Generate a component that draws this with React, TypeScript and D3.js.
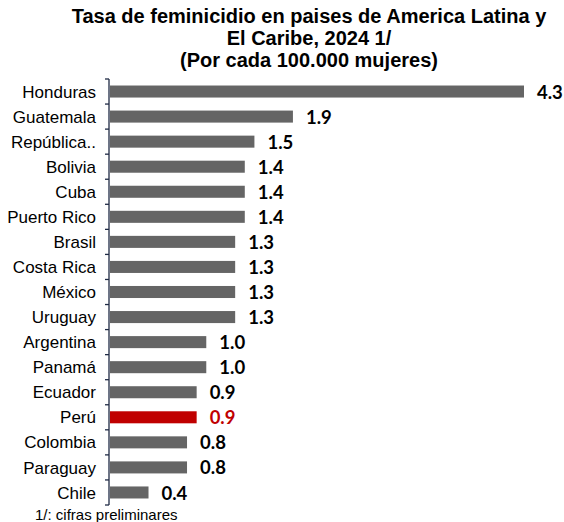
import * as d3 from 'd3';

const countries = [
  'Honduras', 'Guatemala', 'República..', 'Bolivia', 'Cuba', 'Puerto Rico', 'Brasil',
  'Costa Rica', 'México', 'Uruguay', 'Argentina', 'Panamá', 'Ecuador', 'Perú',
  'Colombia', 'Paraguay', 'Chile',
];
const rates = [4.3, 1.9, 1.5, 1.4, 1.4, 1.4, 1.3, 1.3, 1.3, 1.3, 1.0, 1.0, 0.9, 0.9, 0.8, 0.8, 0.4];
const highlight = 'Perú';

const titleLines = [
  'Tasa de feminicidio en paises de America Latina y',
  'El Caribe, 2024 1/',
  '(Por cada 100.000 mujeres)',
];
const footnote = '1/: cifras preliminares';

const W = 564;
const H = 522;

const App = () => {
  const y = d3.scaleBand<string>()
    .domain(countries)
    .range([79, 505])
    .paddingInner(0.52)
    .paddingOuter(0.26);

  const x = d3.scaleLinear()
    .domain([0, 4.3])
    .range([110, 524]);

  const axisX = 109;
  const step = y.step();
  // tick positions at band boundaries
  const ticks = d3.range(countries.length + 1).map(i => 79 + i * step);

  return (
    <svg width={W} height={H} style={{ position: 'absolute', left: 0, top: 0 }}>
      <rect width={W} height={H} fill="#fff" />
      {titleLines.map((t, i) => (
        <text key={i} x={309} y={23 + i * 22} textAnchor="middle"
          fontFamily="'Liberation Sans', Arial, sans-serif" fontWeight="bold" fontSize={20} fill="#000">
          {t}
        </text>
      ))}

      {countries.map((c, i) => {
        const yy = y(c)!;
        const isHi = c === highlight;
        return (
          <g key={c}>
            <rect x={x(0)} y={yy} width={x(rates[i]) - x(0)} height={y.bandwidth()}
              fill={isHi ? '#c00000' : '#656565'} />
            <text x={96} y={yy + y.bandwidth() / 2} dy="0.36em" textAnchor="end"
              fontFamily="'Liberation Sans', Arial, sans-serif" fontSize={17} fill="#000">
              {c}
            </text>
            <text x={x(rates[i]) + 13} y={yy + y.bandwidth() / 2} dy="0.38em"
              fontFamily="Lato, 'Open Sans', sans-serif" fontWeight="bold" fontSize={18.5}
              fill={isHi ? '#c00000' : '#000'}>
              {rates[i].toFixed(1)}
            </text>
          </g>
        );
      })}

      <line x1={axisX} x2={axisX} y1={ticks[0]} y2={ticks[ticks.length - 1]} stroke="#1f2a44" strokeWidth={1.3} />
      {ticks.map((t, i) => (
        <line key={i} x1={axisX - 4} x2={axisX} y1={t} y2={t} stroke="#1f2a44" strokeWidth={1.3} />
      ))}

      <text x={35} y={520} fontFamily="'Liberation Sans', Arial, sans-serif" fontSize={15} fill="#000">
        {footnote}
      </text>
    </svg>
  );
};

export default App;
